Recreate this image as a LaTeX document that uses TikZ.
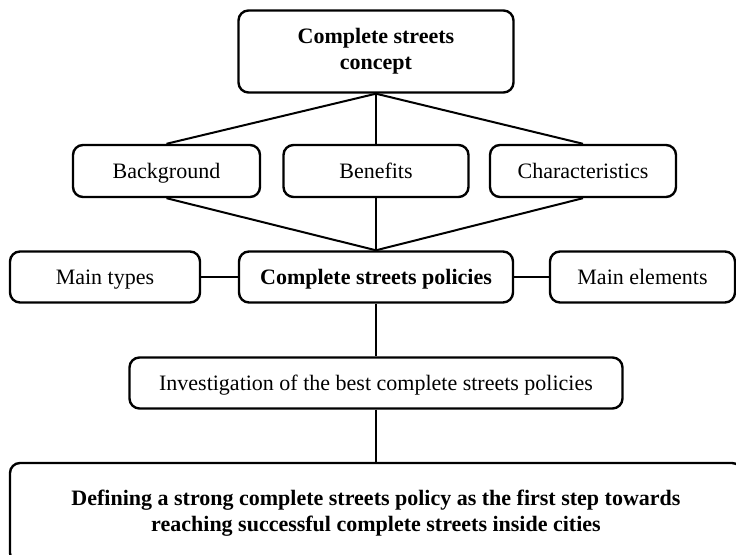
\documentclass[tikz,border=0pt]{standalone}
\usepackage{fontspec}
\setmainfont{Liberation Serif}
\usetikzlibrary{positioning}
\tikzstyle{keybox} = [rectangle, rounded corners=5pt, minimum width=137.5pt, minimum height=40.5pt, text centered, align=center, draw=black, line width=1.2pt, fill=white, font=\fontsize{11}{13}\selectfont\bfseries]
\tikzstyle{topicbox} = [rectangle, rounded corners=5pt, minimum width=93pt, minimum height=26pt, text centered, text height=9pt, text depth=1pt, draw=black, line width=1.2pt, fill=white, font=\fontsize{11}{13}\selectfont]
\tikzstyle{connector} = [line width=1pt]

\begin{document}
\begin{tikzpicture}[node distance=53pt, auto]
    \useasboundingbox (-188pt,-251.75pt) rectangle (180pt,25.75pt);
    \clip (-188pt,-251.75pt) rectangle (180pt,25.75pt);

    % Nodes
    \node (concept) [keybox, minimum height=41pt] {Complete streets\\concept};
    \node (benefits) [topicbox, below of=concept, yshift=-6.75pt, minimum width=92.5pt] {Benefits};
    \node (background) [topicbox, left of=benefits, xshift=-51.75pt, minimum width=93.5pt] {Background};
    \node (characteristics) [topicbox, right of=benefits, xshift=50.5pt] {Characteristics};
    \node (policies) [topicbox, below of=benefits, minimum width=137pt, minimum height=25.5pt, font=\fontsize{11}{13}\selectfont\bfseries] {Complete streets policies};
    \node (maintypes) [topicbox, left of=policies, xshift=-82.5pt, minimum width=95pt, minimum height=25.5pt] {Main types};
    \node (mainelements) [topicbox, right of=policies, xshift=80.25pt, minimum width=92.5pt, minimum height=25.5pt] {Main elements};
    \node (investigation) [topicbox, below of=policies, minimum width=246.5pt, minimum height=25.5pt] {Investigation of the best complete streets policies};
    \node (goal) [keybox, below of=investigation, yshift=-12pt, minimum width=366pt, minimum height=50pt] {Defining a strong complete streets policy as the first step towards\\reaching successful complete streets inside cities};

    % Connectors
    \draw [connector] (concept.south) -- (background.north);
    \draw [connector] (concept.south) -- (benefits.north);
    \draw [connector] (concept.south) -- (characteristics.north);
    \draw [connector] (background.south) -- (policies.north);
    \draw [connector] (benefits.south) -- (policies.north);
    \draw [connector] (characteristics.south) -- (policies.north);
    \draw [connector] (maintypes) -- (policies);
    \draw [connector] (policies) -- (mainelements);
    \draw [connector] (policies) -- (investigation);
    \draw [connector] (investigation) -- (goal);
\end{tikzpicture}
\end{document}
